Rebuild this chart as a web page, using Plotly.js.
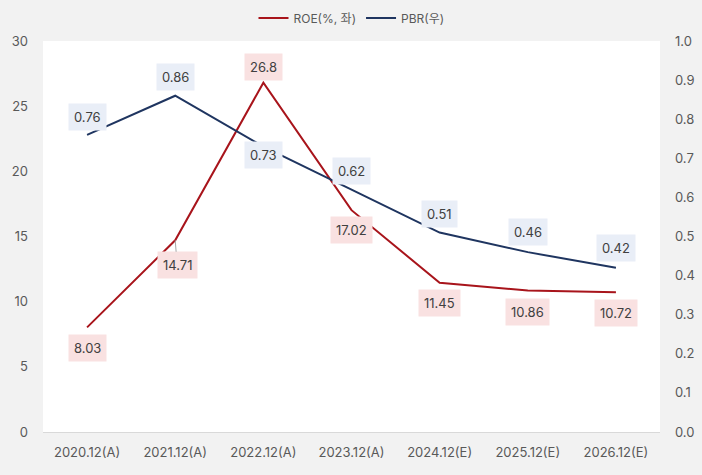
<!DOCTYPE html>
<html><head><meta charset="utf-8">
<script src="https://cdn.plot.ly/plotly-3.0.1.min.js"></script>
<style>html,body{margin:0;padding:0;background:#f2f2f2;}#c{width:702px;height:475px;}</style>
</head><body><div id="c"></div>
<script>
const categories = ["2020.12(A)","2021.12(A)","2022.12(A)","2023.12(A)","2024.12(E)","2025.12(E)","2026.12(E)"];
const roe = [8.03, 14.71, 26.8, 17.02, 11.45, 10.86, 10.72];
const pbr = [0.76, 0.86, 0.73, 0.62, 0.51, 0.46, 0.42];
const roeLabels = ["8.03","14.71","26.8","17.02","11.45","10.86","10.72"];
const pbrLabels = ["0.76","0.86","0.73","0.62","0.51","0.46","0.42"];

const roeColor = "#a8141b", pbrColor = "#1f3560";
const font = "Inter, 'Noto Sans CJK KR', sans-serif";

const traces = [
  {x: categories, y: roe, type: "scatter", mode: "lines", name: "ROE(%, 좌)", line: {color: roeColor, width: 2}, yaxis: "y"},
  {x: categories, y: pbr, type: "scatter", mode: "lines", name: "PBR(우)", line: {color: pbrColor, width: 2}, yaxis: "y2"}
];

const roeShift = [-21, -24, 16, -20, -20, -22, -21];
const pbrShift = [18, 19, -8, 19, 19, 20, 20];

const annotations = [];
categories.forEach((c, i) => {
  if (i === 1) {
    annotations.push({x: c, y: roe[i], xref: "x", yref: "y", text: roeLabels[i], showarrow: true,
      ax: 2, ay: 25, arrowhead: 0, arrowwidth: 1, arrowcolor: "#a6a6a6", standoff: 0,
      bgcolor: "#f9e1e1", borderpad: 5, font: {family: font, size: 13, color: "#404040"}});
  } else {
    annotations.push({x: c, y: roe[i], xref: "x", yref: "y", text: roeLabels[i], showarrow: false,
      yshift: roeShift[i], bgcolor: "#f9e1e1", borderpad: 5, font: {family: font, size: 13, color: "#404040"}});
  }
  annotations.push({x: c, y: pbr[i], xref: "x", yref: "y2", text: pbrLabels[i], showarrow: false,
    yshift: pbrShift[i], bgcolor: "#e9eef7", borderpad: 5, font: {family: font, size: 13, color: "#404040"}});
});

const layout = {
  width: 702, height: 475,
  paper_bgcolor: "#f2f2f2", plot_bgcolor: "#ffffff",
  margin: {l: 43, r: 42, t: 41, b: 43},
  font: {family: font, size: 13, color: "#595959"},
  showlegend: true,
  legend: {orientation: "h", x: 0.5, xanchor: "center", y: 0.962, yanchor: "middle", yref: "container",
    font: {family: font, size: 12, color: "#595959"}, bgcolor: "rgba(0,0,0,0)"},
  xaxis: {type: "category", range: [-0.5, 6.5], showgrid: false, zeroline: false,
    showline: true, linecolor: "#d9d9d9", linewidth: 1, ticks: "", ticklabelstandoff: 8,
    tickfont: {size: 13, color: "#595959"}},
  yaxis: {range: [0, 30], dtick: 5, showgrid: false, zeroline: false, showline: false, ticks: "",
    ticklabelstandoff: 14, tickfont: {size: 13, color: "#595959"}},
  yaxis2: {range: [0, 1.0], dtick: 0.1, tickformat: ".1f", overlaying: "y", side: "right", showgrid: false,
    zeroline: false, showline: false, ticks: "", ticklabelstandoff: 14, tickfont: {size: 13, color: "#595959"}},
  annotations: annotations
};
Plotly.newPlot("c", traces, layout, {displayModeBar: false, staticPlot: true});
</script></body></html>
